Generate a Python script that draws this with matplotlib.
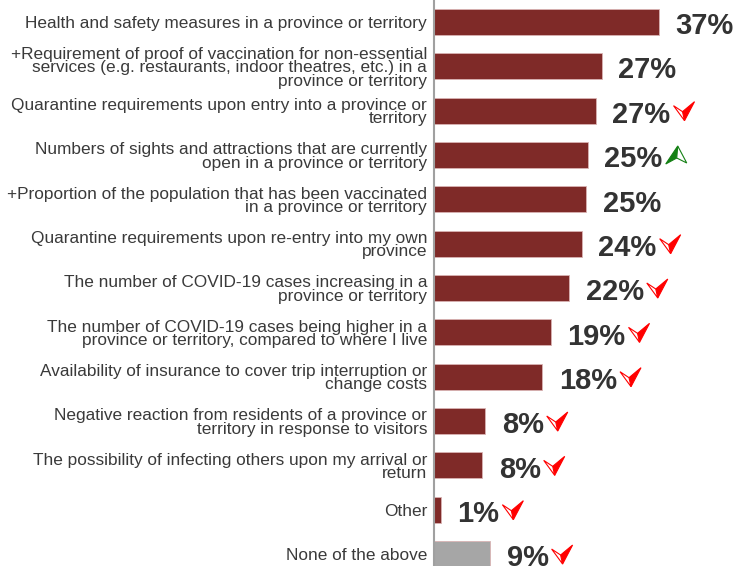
import matplotlib.pyplot as plt
from matplotlib.patches import Polygon
from matplotlib.transforms import IdentityTransform

plt.rcParams['font.family'] = ['Liberation Sans', 'DejaVu Sans']

# data
categories = [
    "Health and safety measures in a province or territory",
    "+Requirement of proof of vaccination for non-essential\nservices (e.g. restaurants, indoor theatres, etc.) in a\nprovince or territory",
    "Quarantine requirements upon entry into a province or\nterritory",
    "Numbers of sights and attractions that are currently\nopen in a province or territory",
    "+Proportion of the population that has been vaccinated\nin a province or territory",
    "Quarantine requirements upon re-entry into my own\nprovince",
    "The number of COVID-19 cases increasing in a\nprovince or territory",
    "The number of COVID-19 cases being higher in a\nprovince or territory, compared to where I live",
    "Availability of insurance to cover trip interruption or\nchange costs",
    "Negative reaction from residents of a province or\nterritory in response to visitors",
    "The possibility of infecting others upon my arrival or\nreturn",
    "Other",
    "None of the above",
]
values = [37.0, 27.6, 26.6, 25.3, 25.0, 24.3, 22.2, 19.2, 17.8, 8.4, 7.9, 1.1, 9.2]
value_labels = ["37%", "27%", "27%", "25%", "25%", "24%", "22%", "19%", "18%",
                "8%", "8%", "1%", "9%"]
# change vs previous wave: 'up', 'down' or None
trends = [None, None, "down", "up", None, "down", "down", "down", "down",
          "down", "down", "down", "down"]

bar_red = "#7f2a28"
bar_grey = "#a6a6a6"
colors = [bar_red] * (len(values) - 1) + [bar_grey]

fig = plt.figure(figsize=(7.36, 5.66), dpi=100)
ax = fig.add_axes([434 / 736, 0, 302 / 736, 1])

y = list(range(len(values)))
ax.barh(y, values, height=0.59, color=colors, edgecolor="#d9b3b3", linewidth=0.6)
ax.set_xlim(0, 302 / 6.08)
ax.set_ylim(12.27, -0.496)

for s in ["top", "right", "bottom"]:
    ax.spines[s].set_visible(False)
ax.spines["left"].set_color("#a0a0a0")
ax.spines["left"].set_linewidth(1.5)
ax.set_xticks([])
ax.set_yticks([])

# category labels, right aligned next to the axis
for yi, cat in zip(y, categories):
    ax.annotate(cat, xy=(0, yi), xytext=(-5, -1), textcoords="offset points",
                ha="right", va="center", fontsize=12.4, color="#3a3a3a",
                linespacing=0.86, annotation_clip=False)

value_texts = []
for yi, v, lab in zip(y, values, value_labels):
    t = ax.annotate(lab, xy=(v, yi), xytext=(12, -3), textcoords="offset points",
                    ha="left", va="center", fontsize=21, fontweight="bold",
                    color="#333333", annotation_clip=False)
    value_texts.append(t)

# trend arrows drawn just after each value label
fig.canvas.draw()
renderer = fig.canvas.get_renderer()
down_out = [(0, 4), (9, 10), (11, 19)]
down_fill = [(9, 10), (21, 0), (11, 19)]
up_fill = [(12, 0), (11, 12), (0, 18)]
up_out = [(12, 0), (21, 17), (11, 12)]
for t, tr, yi in zip(value_texts, trends, y):
    if tr is None:
        continue
    bb = t.get_window_extent(renderer)
    cy = ax.transData.transform((0, yi))[1]
    x0 = bb.x1 + 3
    top = cy + 9
    def to_disp(pts):
        return [(x0 + px, top - py) for px, py in pts]
    if tr == "down":
        c = "#ff0000"
        fill_pts, out_pts = down_fill, down_out
    else:
        c = "#148014"
        fill_pts, out_pts = up_fill, up_out
    fig.add_artist(Polygon(to_disp(fill_pts), closed=True, facecolor=c,
                           edgecolor=c, linewidth=0.8, transform=IdentityTransform()))
    fig.add_artist(Polygon(to_disp(out_pts), closed=True, facecolor="white",
                           edgecolor=c, linewidth=0.8, transform=IdentityTransform()))

fig.savefig("out.png", dpi=100)
